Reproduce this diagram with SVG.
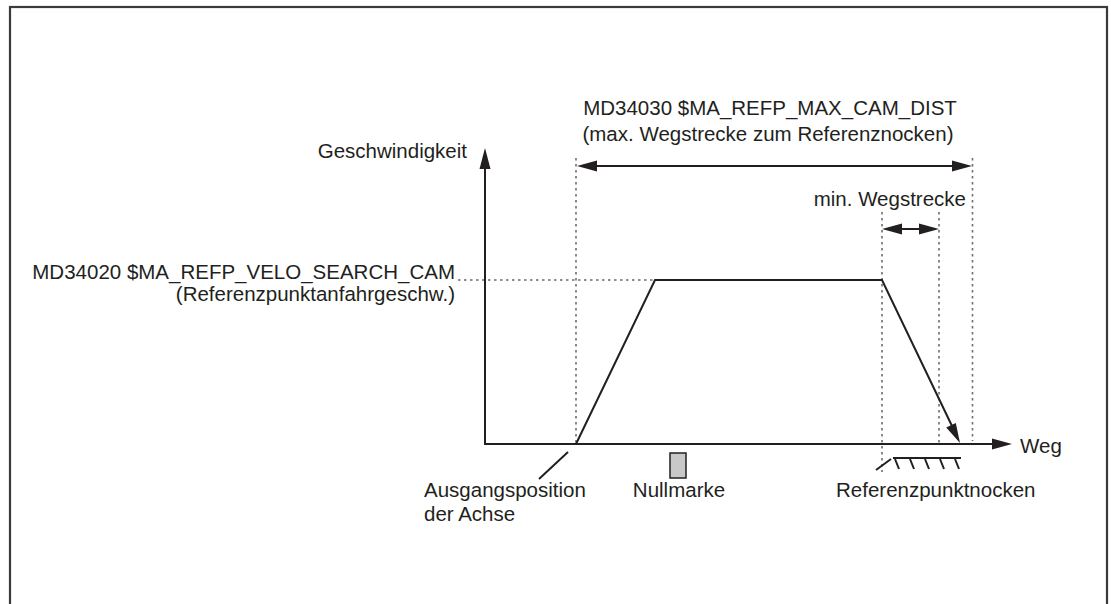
<svg xmlns="http://www.w3.org/2000/svg" width="1111" height="604" viewBox="0 0 1111 604">
<style>
text{font-family:"Liberation Sans",Arial,sans-serif;font-size:20.5px;fill:#231f20}
.ln{stroke:#231f20;stroke-width:2;fill:none}
.ds{stroke:#6d6e71;stroke-width:1.6;stroke-dasharray:2.5 3.5;fill:none}
.ah{fill:#231f20;stroke:none}
</style>
<rect x="10" y="7" width="1097" height="640" fill="#fff" stroke="#3a3a3a" stroke-width="2.2"/>
<g id="connectors">
<line class="ds" x1="576" y1="158" x2="576" y2="444"/>
<line class="ds" x1="972.5" y1="158" x2="972.5" y2="441"/>
<line class="ds" x1="882" y1="212" x2="882" y2="472"/>
<line class="ds" x1="939" y1="212" x2="939" y2="444"/>
<line class="ds" x1="458" y1="280" x2="655" y2="280"/>
<line class="ln" x1="485" y1="166" x2="485" y2="444"/>
<polygon class="ah" points="485,148 479.5,169 490.5,169"/>
<line class="ln" x1="484" y1="444" x2="994" y2="444"/>
<polygon class="ah" points="1012,444 992,438.5 992,449.5"/>
<polyline class="ln" points="576,444 655,280 882,280 952,426"/>
<polygon class="ah" points="960,443 946.2,427.6 955.8,423"/>
<line class="ln" x1="594" y1="166" x2="955" y2="166"/>
<polygon class="ah" points="577,166 597,160.5 597,171.5"/>
<polygon class="ah" points="972,166 952,160.5 952,171.5"/>
<line class="ln" x1="898" y1="229" x2="922" y2="229"/>
<polygon class="ah" points="882,229 902,223.5 902,234.5"/>
<polygon class="ah" points="939,229 919,223.5 919,234.5"/>
<line class="ln" x1="568" y1="452" x2="539" y2="479"/>
<line class="ln" x1="891" y1="459" x2="876" y2="470"/>
</g>
<g id="cam">
<line class="ln" x1="893" y1="458" x2="961" y2="458"/>
<path class="ln" d="M895,459 l4,10 M910,459 l4,10 M925,459 l4,10 M940,459 l4,10 M955,459 l4,10"/>
</g>
<g id="nullmarke">
<rect x="670" y="453" width="16" height="25" fill="#c8c8c8" stroke="#231f20" stroke-width="1.5"/>
</g>
<g id="labels">
<text x="770" y="115" text-anchor="middle">MD34030 $MA_REFP_MAX_CAM_DIST</text>
<text x="768" y="141" text-anchor="middle">(max. Wegstrecke zum Referenznocken)</text>
<text x="966" y="206" text-anchor="end">min. Wegstrecke</text>
<text x="467" y="158" text-anchor="end">Geschwindigkeit</text>
<text x="455" y="279" text-anchor="end">MD34020 $MA_REFP_VELO_SEARCH_CAM</text>
<text x="455" y="301" text-anchor="end">(Referenzpunktanfahrgeschw.)</text>
<text x="1020" y="453">Weg</text>
<text x="424" y="497">Ausgangsposition</text>
<text x="424" y="521">der Achse</text>
<text x="679" y="497" text-anchor="middle">Nullmarke</text>
<text x="836" y="497">Referenzpunktnocken</text>
</g>
</svg>
